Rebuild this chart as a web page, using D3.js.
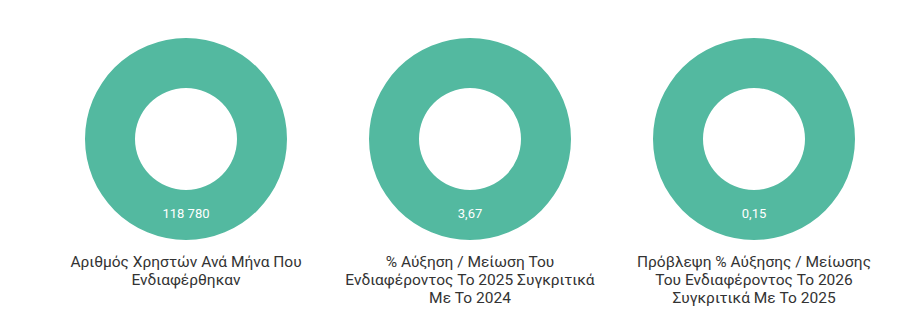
<!DOCTYPE html>
<html>
<head>
<meta charset="utf-8">
<script src="https://cdn.jsdelivr.net/npm/d3@7"></script>
<style>
    html, body { margin: 0; padding: 0; background: #fff; }
    text { font-family: Roboto, "Noto Sans", sans-serif; }
</style>
</head>
<body>
<div id="chart"></div>
<script>
(function () {
    'use strict';

    var titles = [
            ['Αριθμός Χρηστών Ανά Μήνα Που', 'Ενδιαφέρθηκαν'],
            ['% Αύξηση / Μείωση Του', 'Ενδιαφέροντος Το 2025 Συγκριτικά', 'Με Το 2024'],
            ['Πρόβλεψη % Αύξησης / Μείωσης', 'Του Ενδιαφέροντος Το 2026', 'Συγκριτικά Με Το 2025']
        ],
        values = [118780, 3.67, 0.15],
        valueLabels = ['118 780', '3,67', '0,15'],

        width = 900,
        height = 336,
        outerR = 101,
        innerR = 51,
        cy = 139,

        svg = d3.select('#chart')
            .append('svg')
            .attr('width', width)
            .attr('height', height),

        x = d3.scaleBand()
            .domain(d3.range(values.length))
            .range([44, 896]),

        pie = d3.pie().sort(null),
        arc = d3.arc().innerRadius(innerR).outerRadius(outerR),

        groups = svg.selectAll('g.donut')
            .data(values)
            .enter()
            .append('g')
            .attr('class', 'donut')
            .attr('transform', function (d, i) {
                return 'translate(' + (x(i) + x.bandwidth() / 2) + ',' + cy + ')';
            });

    groups.selectAll('path')
        .data(function (d) { return pie([d]); })
        .enter()
        .append('path')
        .attr('d', arc)
        .style('fill', '#53b9a0');

    // value label sits in the lower part of the ring
    groups.append('text')
        .attr('x', 0)
        .attr('y', 76)
        .attr('text-anchor', 'middle')
        .attr('dominant-baseline', 'middle')
        .style('font-size', '13px')
        .style('fill', '#fff')
        .text(function (d, i) { return valueLabels[i]; });

    groups.each(function (d, i) {
        d3.select(this).append('text')
            .attr('text-anchor', 'middle')
            .style('font-size', '15.5px')
            .style('fill', '#333')
            .selectAll('tspan')
            .data(titles[i])
            .enter()
            .append('tspan')
            .attr('x', 0)
            .attr('y', function (t, j) { return 128 + j * 18; })
            .text(function (t) { return t; });
    });
}());
</script>
</body>
</html>
